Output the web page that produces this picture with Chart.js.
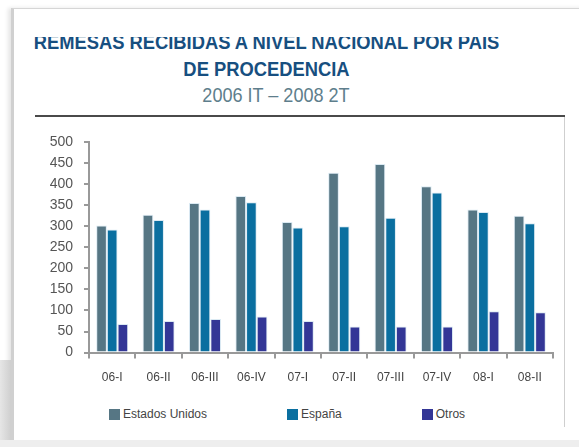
<!DOCTYPE html>
<html>
<head>
<meta charset="utf-8">
<script src="https://cdn.jsdelivr.net/npm/chart.js@4.4.0/dist/chart.umd.min.js"></script>
<style>
  html, body { margin: 0; padding: 0; background: #fff; }
  body { width: 579px; height: 447px; position: relative; overflow: hidden; font-family: "Liberation Sans", Arial, sans-serif; }
  .card { position: absolute; left: 11px; top: 8px; width: 580px; height: 432px; border-top: 1px solid #d6d6d6; border-left: 3px solid #d0d0d0; box-shadow: -3px 0 4px #e6e6e6; background: #fff; }
  .bottomband { position: absolute; left: 0; top: 440px; width: 579px; height: 7px; background: #eeeeee; }
  .leftfade { position: absolute; left: 0; top: 360px; width: 11px; height: 87px; background: linear-gradient(to right, #e6e6e6, #cfcfcf); }
  .titleclip { position: absolute; left: 0; top: 37px; width: 560px; height: 80px; overflow: hidden; }
  .title { position: absolute; left: 0; width: 533px; text-align: center; font-weight: bold; color: #174f80; font-size: 21px; line-height: 24px; transform: scaleX(0.874); transform-origin: 266.5px 0; }
  .sub { position: absolute; left: 0; top: 83px; width: 552px; text-align: center; color: #5e7e8c; font-size: 21px; line-height: 24px; transform: scaleX(0.86); transform-origin: 276px 0; }
  .rule { position: absolute; left: 35px; top: 115px; width: 530px; height: 2px; background: #4a4a4a; }
  .vrule { position: absolute; left: 564px; top: 117px; width: 1px; height: 310px; background: #cfcfcf; }
  #wrap { position: absolute; left: 0; top: 120px; width: 579px; height: 281px; }
  #leyenda { position: absolute; left: 109px; top: 407px; display: flex; gap: 80px; font-size: 12px; color: #444; line-height: 14px; }
  #leyenda span.item { display: flex; align-items: center; }
  #leyenda span.box { display: inline-block; width: 11px; height: 11px; margin-right: 3px; }
</style>
</head>
<body>
<div class="card"></div>
<div class="leftfade"></div>
<div class="bottomband"></div>
<div class="titleclip">
  <div class="title" style="top:-7px">REMESAS RECIBIDAS A NIVEL NACIONAL POR PAIS</div>
  <div class="title" style="top:20px">DE PROCEDENCIA</div>
</div>
<div class="sub">2006 IT – 2008 2T</div>
<div class="rule"></div>
<div class="vrule"></div>
<div id="wrap"><canvas id="chartArea"></canvas></div>
<div id="leyenda"></div>
<script>
    // trimestres
    var periodos = ["06-I", "06-II", "06-III", "06-IV", "07-I", "07-II", "07-III", "07-IV", "08-I", "08-II"];
    var estadosUnidos = [302, 327, 355, 372, 310, 427, 448, 395, 340, 325];
    var espana = [292, 315, 340, 357, 297, 300, 320, 380, 334, 307];
    var otros = [68, 75, 80, 86, 75, 62, 62, 62, 98, 96];
    var yTicks = [0, 50, 100, 150, 200, 250, 300, 350, 400, 450, 500];

    var gris = '#999999';
    var fuente = '"Liberation Sans", Arial, sans-serif';

    function serie(label, data, color) {
        return {
            label: label,
            data: data,
            backgroundColor: color,
            borderColor: 'rgba(215,232,242,0.9)',
            borderWidth: 1,
            barPercentage: 1.0,
            categoryPercentage: 0.69
        };
    }

    // leyenda en html, construida desde los datasets del grafico
    const htmlLegend = {
        id: 'htmlLegend',
        afterUpdate(chart) {
            const ul = document.getElementById('leyenda');
            ul.innerHTML = '';
            chart.data.datasets.forEach(ds => {
                const item = document.createElement('span');
                item.className = 'item';
                const box = document.createElement('span');
                box.className = 'box';
                box.style.background = ds.backgroundColor;
                item.appendChild(box);
                item.appendChild(document.createTextNode(ds.label));
                ul.appendChild(item);
            });
        }
    };

    const canvas = document.getElementById('chartArea');
    new Chart(canvas, {
        type: 'bar',
        data: {
            labels: periodos,
            datasets: [
                serie("Estados Unidos", estadosUnidos, '#567684'),
                serie("España", espana, '#0a6fa0'),
                serie("Otros", otros, '#333696')
            ]
        },
        options: {
            responsive: true,
            maintainAspectRatio: false,
            animation: false,
            layout: { padding: { left: 50, right: 26, top: 22, bottom: 4 } },
            plugins: {
                tooltip: { enabled: false },
                legend: { display: false }
            },
            scales: {
                x: {
                    grid: { drawOnChartArea: false, drawTicks: true, tickLength: 6, color: gris, lineWidth: 2 },
                    border: { color: gris, width: 2 },
                    ticks: { color: '#444', padding: 12, font: { size: 12, family: fuente } }
                },
                y: {
                    min: 0,
                    max: 500,
                    afterBuildTicks: axis => { axis.ticks = yTicks.map(v => ({ value: v })); },
                    afterFit: axis => { axis.width = 39; },
                    grid: { drawOnChartArea: false, drawTicks: true, tickLength: 5, color: gris, lineWidth: 2 },
                    border: { color: gris, width: 2 },
                    ticks: { color: '#555', padding: 11, autoSkip: false, font: { size: 14, family: fuente } }
                }
            }
        },
        plugins: [htmlLegend]
    });
</script>
</body>
</html>
